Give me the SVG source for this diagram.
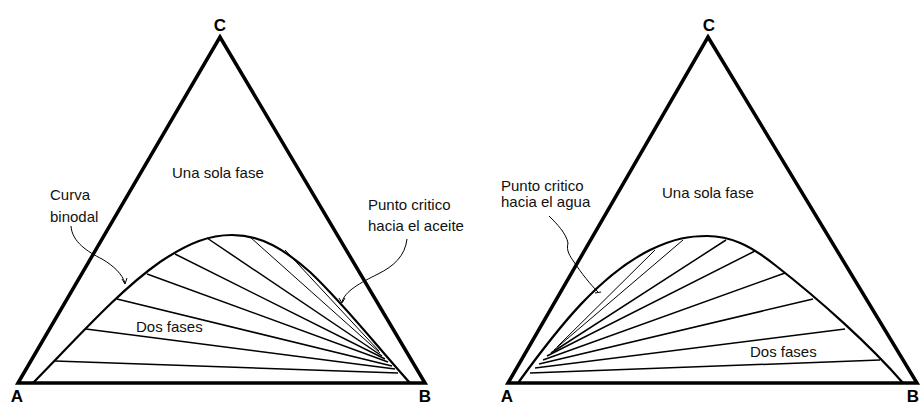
<svg xmlns="http://www.w3.org/2000/svg" width="922" height="406" viewBox="0 0 922 406">
<style>
.tri{fill:none;stroke:#000;stroke-width:3.5;stroke-linejoin:miter}
.bin{fill:none;stroke:#000;stroke-width:2.2}
.tie{fill:none;stroke:#000;stroke-width:1.5}
.thin{fill:none;stroke:#000;stroke-width:1}
.lead{fill:none;stroke:#000;stroke-width:1}
.lbl{font-family:"Liberation Sans",Arial,sans-serif;font-size:15px;fill:#111}
.vtx{font-family:"Liberation Sans",Arial,sans-serif;font-size:17px;font-weight:bold;fill:#000;text-anchor:middle}
</style>
<rect width="922" height="406" fill="#fff"/>
<g id="diagram-left">
  <g id="triangle-left"><polygon class="tri" points="18,383 220,37 425,383"/></g>
  <g id="binodal-left"><path class="bin" d="M33,383 C80,335 120,290 160,262 C190,242 210,235 232,235 C262,235 285,250 310,272 C345,305 380,350 410,383"/></g>
  <g id="tielines-left">
    <line class="tie" x1="55" y1="361" x2="398" y2="373"/>
    <line class="tie" x1="86" y1="329" x2="395" y2="369"/>
    <line class="tie" x1="117" y1="299" x2="392" y2="366"/>
    <line class="tie" x1="147" y1="274" x2="388" y2="362"/>
    <line class="tie" x1="175" y1="254" x2="385" y2="359"/>
    <line class="tie" x1="207" y1="238" x2="382" y2="356"/>
    <line class="thin" x1="250" y1="237" x2="380" y2="353"/>
    <line class="thin" x1="285" y1="250" x2="379" y2="351"/>
  </g>
  <g id="vertex-C-left"><text class="vtx" x="220" y="31">C</text></g>
  <g id="vertex-A-left"><text class="vtx" x="17" y="402">A</text></g>
  <g id="vertex-B-left"><text class="vtx" x="425" y="402">B</text></g>
  <g id="label-una-left"><text class="lbl" x="172" y="178">Una sola fase</text></g>
  <g id="label-curva"><text class="lbl" x="50" y="200">Curva</text><text class="lbl" x="50" y="222">binodal</text></g>
  <g id="label-aceite"><text class="lbl" x="368" y="210">Punto critico</text><text class="lbl" x="368" y="231">hacia el aceite</text></g>
  <g id="label-dos-left"><text class="lbl" x="136" y="332">Dos fases</text></g>
</g>
<g id="diagram-right">
  <g id="triangle-right"><polygon class="tri" points="508,383 708,37 917,383"/></g>
  <g id="binodal-right"><path class="bin" d="M518,383 C560,325 600,275 650,250 C675,238 690,236 707,236 C730,236 750,245 775,265 C820,300 870,345 903,383"/></g>
  <g id="tielines-right">
    <line class="tie" x1="530" y1="373" x2="880" y2="360"/>
    <line class="tie" x1="535" y1="368" x2="845" y2="329"/>
    <line class="tie" x1="539" y1="364" x2="813" y2="299"/>
    <line class="tie" x1="543" y1="360" x2="785" y2="273"/>
    <line class="tie" x1="547" y1="356" x2="755" y2="251"/>
    <line class="tie" x1="551" y1="353" x2="726" y2="240"/>
    <line class="thin" x1="554" y1="350" x2="683" y2="240"/>
    <line class="thin" x1="557" y1="347" x2="655" y2="250"/>
  </g>
  <g id="vertex-C-right"><text class="vtx" x="709" y="31">C</text></g>
  <g id="vertex-A-right"><text class="vtx" x="507" y="402">A</text></g>
  <g id="vertex-B-right"><text class="vtx" x="913" y="402">B</text></g>
  <g id="label-una-right"><text class="lbl" x="662" y="198">Una sola fase</text></g>
  <g id="label-agua"><text class="lbl" x="501" y="191">Punto critico</text><text class="lbl" x="501" y="207">hacia el agua</text></g>
  <g id="label-dos-right"><text class="lbl" x="750" y="357">Dos fases</text></g>
</g>
<g id="connectors">
  <path class="lead" d="M71,226 C72,242 88,252 102,259 C114,266 122,274 125,283"/>
  <path class="lead" d="M122,279 L125,284 L127,278"/>
  <path class="lead" d="M407,239 C405,256 394,266 378,274 C360,283 345,291 342,302"/>
  <path class="lead" d="M339,298 L342,303 L345,298"/>
  <path class="lead" d="M549,216 C557,224 566,233 568,243 C566,251 570,256 574,262 C582,274 590,284 598,292"/>
  <path class="lead" d="M595,293 L601,292"/>
</g>
</svg>
